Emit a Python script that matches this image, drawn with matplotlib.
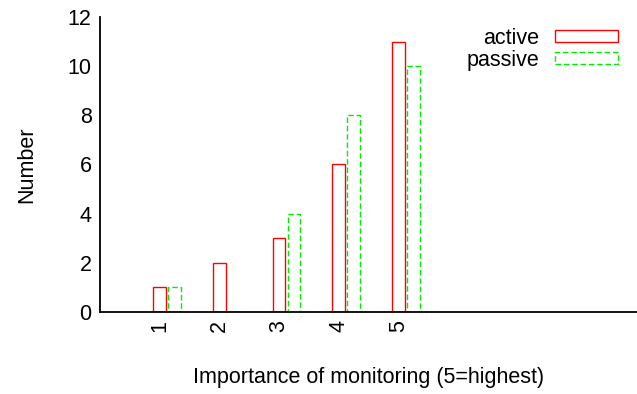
import numpy as np
import matplotlib
matplotlib.use("Agg")
from matplotlib import pyplot as plt

plt.rcParams['font.family'] = ['Liberation Sans', 'DejaVu Sans']

categories = ["1", "2", "3", "4", "5"]
active = [1, 2, 3, 6, 11]
passive = [1, 0, 4, 8, 10]

fig = plt.figure(figsize=(6.37, 3.94), dpi=100)
ax = fig.add_axes([0.157, 0.208, 0.843, 0.749])

x = np.arange(1, len(categories) + 1)
width = 0.21
ax.bar(x, active, width=width, fill=False, edgecolor="#ff0000", linewidth=1.0, label="active")
ax.bar(x + 0.25, passive, width=width, fill=False, edgecolor="#00ee00", linewidth=1.0,
       linestyle=(0, (4, 2)), label="passive")

ax.set_xlim(0, 9)
ax.set_ylim(0, 12)
ax.set_yticks(range(0, 13, 2))
ax.set_xticks(x)
ax.set_xticklabels(categories, rotation=90)
ax.tick_params(length=0, labelsize=15.5, pad=6)
for side in ["top", "right"]:
    ax.spines[side].set_visible(False)
ax.spines["left"].set_linewidth(1.3)
ax.spines["bottom"].set_linewidth(1.3)

ax.set_xlabel("Importance of monitoring (5=highest)", fontsize=15.5, labelpad=25)
ax.set_ylabel("Number", fontsize=15.5, labelpad=22)

leg = ax.legend(loc="upper right", bbox_to_anchor=(0.981, 0.993), frameon=False, fontsize=15.5,
                markerfirst=False, handlelength=2.95, handleheight=0.5, labelspacing=0.05,
                handletextpad=0.7, borderaxespad=0)

fig.savefig("out.png", dpi=100)
